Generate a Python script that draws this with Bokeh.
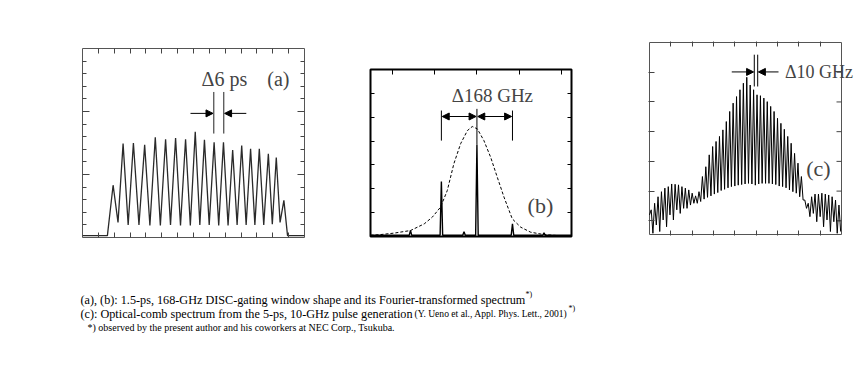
from bokeh.plotting import figure
from bokeh.layouts import column, row
from bokeh.models import (Range1d, LinearAxis, FixedTicker, Arrow, NormalHead,
                          Label, CustomJSTickFormatter)
from bokeh.embed import file_html
from bokeh.resources import INLINE

SERIF = "Liberation Serif"

# ---------------- Panel (a): DISC gating window (time, ps) ----------------
a_peak_ps = [19.3, 25.6, 32.1, 39.2, 45.9, 52.4, 58.7, 65.0, 71.1, 76.9,
             83.0, 88.9, 94.7, 100.4, 106.0, 111.5, 117.2, 122.2, 127.0]
a_peak_val = [0.83, 1.49, 1.50, 1.47, 1.59, 1.56, 1.58, 1.56, 1.68, 1.55,
              1.51, 1.51, 1.39, 1.46, 1.41, 1.41, 1.33, 1.27, 0.59]
a_valley_ps = [22.4, 28.8, 35.6, 42.5, 49.1, 55.5, 61.8, 68.0, 74.0, 79.9,
               85.9, 91.8, 97.5, 103.2, 108.7, 114.3, 119.7, 124.6]
a_valley_val = [0.24, 0.20, 0.20, 0.19, 0.19, 0.20, 0.19, 0.19, 0.20, 0.20,
                0.19, 0.19, 0.20, 0.20, 0.20, 0.20, 0.21, 0.24]
a_baseline = 0.03
a_rise_ps = 15.7
a_fall_ps = 129.3
a_xticks = [10, 20, 30, 40, 50, 60, 70, 80, 90, 100, 110, 120, 130]
a_yticks = [1, 2]
a_yminor = [0.2, 0.4, 0.6, 0.8, 1.2, 1.4, 1.6, 1.8, 2.2, 2.4, 2.6, 2.8]
a_mark_ps = [82.8, 89.1]

# ---------------- Panel (b): Fourier spectrum (GHz) ----------------
b_line_ghz = [-314, -168, -61, 0, 168, 317]
b_line_val = [0.25, 2.30, 0.20, 3.86, 0.53, 0.15]
b_floor = 0.05
b_env_ghz = [-503, -456, -393, -314, -249, -211, -172, -140, -109, -77, -45,
             -22, 2, 33, 65, 96, 128, 167, 207, 254, 317, 380, 447]
b_env_val = [0.05, 0.08, 0.14, 0.25, 0.53, 0.81, 1.23, 1.93, 3.05, 3.89, 4.44,
             4.61, 4.51, 4.02, 3.32, 2.49, 1.65, 0.74, 0.39, 0.18, 0.08, 0.04, 0.03]
b_xticks = [-400, -200, 0, 200, 400]
b_yticks = [1, 2, 3, 4, 5, 6]
b_mark_ghz = [-168, 0, 168]

# ---------------- Panel (c): optical comb spectrum (GHz, dB) ----------------
c_span_ghz = 562.5
c_floor_db = -64.6
c_line_ghz = [5, 15, 25, 35, 45, 55, 65, 75, 85, 95, 105, 115, 125, 135,
              145, 155, 165, 175, 185, 195, 205, 215, 225, 235, 245, 255,
              265, 275, 285, 295, 305, 315, 325, 335, 345, 355, 365, 375,
              385, 395, 405, 415, 425, 435, 445, 455, 465, 475, 485, 495,
              505, 515, 525, 535, 545, 555]
c_peak_db = [-56.3, -54.1, -51.9, -50.2, -49.0, -48.5, -47.6, -47.7, -47.9,
             -48.5, -49.0, -49.6, -50.7, -51.6, -50.2, -45.1, -41.8, -37.8,
             -35.0, -33.3, -31.6, -29.4, -26.6, -23.2, -20.4, -18.2, -15.9,
             -13.7, -11.7, -14.3, -15.9, -17.6, -17.9, -18.7, -19.9, -21.5,
             -23.2, -25.5, -27.2, -29.2, -31.6, -33.9, -37.3, -40.6, -45.1,
             -53.0, -54.1, -51.9, -51.0, -51.0, -50.7, -51.0, -51.3, -51.9,
             -53.0, -54.7]
c_trough_db = [-64.2, -61.4, -63.6, -59.7, -62.0, -58.0, -59.7, -56.3, -57.5,
               -55.8, -55.8, -54.7, -54.1, -54.1, -53.5, -52.7, -52.1, -51.6,
               -51.0, -50.5, -49.8, -49.4, -48.9, -48.5, -48.3, -48.0, -47.8,
               -47.6, -47.4, -47.6, -48.0, -47.6, -47.4, -47.4, -47.4, -47.6,
               -47.8, -48.3, -48.5, -48.9, -49.6, -50.2, -50.7, -51.9, -53.0,
               -55.8, -58.6, -57.5, -60.3, -58.6, -62.0, -59.7, -63.6, -60.3,
               -64.2, -63.6]
c_start_db = -58.0
c_xticks = [62.5, 125, 187.5, 250, 312.5, 375, 437.5, 500]
c_yticks = [-60, -50, -40, -30, -20, -10]
c_mark_ghz = [307, 317]

# ---------------- Caption ----------------
cap1 = "(a), (b): 1.5-ps, 168-GHz DISC-gating window shape and its Fourier-transformed spectrum"
cap2 = "(c): Optical-comb spectrum from the 5-ps, 10-GHz pulse generation"
cap2_ref = "(Y. Ueno et al., Appl. Phys. Lett., 2001)"
cap3 = "*) observed by the present author and his coworkers at NEC Corp., Tsukuba."
star = "*)"


def panel(width, height, bl, br, bt, bb, xr, yr, outline_color, outline_width):
    p = figure(width=width, height=height, x_range=Range1d(*xr), y_range=Range1d(*yr),
               output_backend="svg", toolbar_location=None,
               x_axis_location=None, y_axis_location=None,
               min_border_left=bl, min_border_right=br,
               min_border_top=bt, min_border_bottom=bb)
    p.frame_align = False
    p.grid.grid_line_color = None
    p.outline_line_color = outline_color
    p.outline_line_width = outline_width
    p.background_fill_color = "white"
    p.border_fill_color = "white"
    return p


def add_axes(p, locs, ticks, minor, tin, minor_in, color):
    for loc in locs:
        ax = LinearAxis(ticker=FixedTicker(ticks=ticks, minor_ticks=minor),
                        formatter=CustomJSTickFormatter(code="return ''"),
                        major_tick_in=tin, major_tick_out=0,
                        minor_tick_in=minor_in, minor_tick_out=0,
                        major_label_standoff=0, axis_line_color=None,
                        major_tick_line_color=color, minor_tick_line_color=color,
                        major_tick_line_width=1, minor_tick_line_width=1)
        p.add_layout(ax, loc)


def head():
    return NormalHead(size=7, fill_color="black", line_color="black", line_width=1)


ROW_H = 270

# ---- panel (a)  frame x 82..304, y 48..237
pa = panel(324, ROW_H, 82, 20, 48, 33, (0, 140), (0, 3), "#555555", 1)
add_axes(pa, ["below", "above"], a_xticks, [], 5, 0, "#444444")
add_axes(pa, ["left", "right"], a_yticks, a_yminor, 7, 4, "#444444")
ax_t = [0, a_rise_ps]
ay_v = [a_baseline, a_baseline]
for i in range(len(a_peak_ps)):
    ax_t.append(a_peak_ps[i]); ay_v.append(a_peak_val[i])
    if i < len(a_valley_ps):
        ax_t.append(a_valley_ps[i]); ay_v.append(a_valley_val[i])
ax_t += [a_fall_ps, 140]
ay_v += [a_baseline, a_baseline]
pa.line(ax_t, ay_v, line_color="#2a2a2a", line_width=1.3)
pa.segment(x0=a_mark_ps, y0=[1.65, 1.65], x1=a_mark_ps, y1=[2.31, 2.31],
           line_color="#222222", line_width=1)
pa.add_layout(Arrow(start=None, end=head(), x_start=68.1, y_start=1.97,
                    x_end=a_mark_ps[0] - 0.5, y_end=1.97, line_width=1))
pa.add_layout(Arrow(start=None, end=head(), x_start=103.3, y_start=1.97,
                    x_end=a_mark_ps[1] + 0.5, y_end=1.97, line_width=1))
pa.add_layout(Label(x=89.5, y=2.52, text="\u03946 ps", text_font=SERIF,
                    text_font_size="20px", text_align="center", text_baseline="middle"))
pa.add_layout(Label(x=123.5, y=2.51, text="(a)", text_font=SERIF,
                    text_font_size="20px", text_align="center", text_baseline="middle"))

# ---- panel (b)  frame x 370..571, y 69..236
pb = panel(267, ROW_H, 46, 20, 69, 34, (-503, 447), (0, 7), "black", 2)
add_axes(pb, ["above"], b_xticks, [], 5, 0, "black")
add_axes(pb, ["left", "right"], b_yticks, [], 4, 0, "black")
pb.line(b_env_ghz, b_env_val, line_color="black", line_width=1, line_dash="3 2")
HALF = 6
bx = [-503]
by = [b_floor]
for f, v in zip(b_line_ghz, b_line_val):
    bx += [f - HALF, f, f + HALF]
    by += [b_floor, v, b_floor]
bx.append(447)
by.append(b_floor)
pb.line(bx, by, line_color="black", line_width=1.4)
pb.segment(x0=[b_mark_ghz[0], b_mark_ghz[2], b_mark_ghz[1]], y0=[4.02, 4.02, 3.86],
           x1=[b_mark_ghz[0], b_mark_ghz[2], b_mark_ghz[1]], y1=[5.28, 5.28, 5.35],
           line_color="black", line_width=1)
pb.add_layout(Arrow(start=head(), end=head(), x_start=b_mark_ghz[0] + 4, y_start=5.03,
                    x_end=b_mark_ghz[1] - 4, y_end=5.03, line_width=1.2))
pb.add_layout(Arrow(start=head(), end=head(), x_start=b_mark_ghz[1] + 4, y_start=5.03,
                    x_end=b_mark_ghz[2] - 4, y_end=5.03, line_width=1.2))
pb.add_layout(Label(x=73, y=5.91, text="\u0394168 GHz", text_font=SERIF,
                    text_font_size="19px", text_align="center", text_baseline="middle"))
pb.add_layout(Label(x=300, y=1.30, text="(b)", text_font=SERIF,
                    text_font_size="22px", text_align="center", text_baseline="middle"))

# ---- panel (c)  box x 649..841, y 42..234 ; frame x 648..860, y 41..235
# (frame runs to the page edge so that the "Δ10 GHz" note may overhang the box)
GHZ_PER_PX = c_span_ghz / 192.0
DB_PER_PX = -c_floor_db / 192.0
pc = panel(269, ROW_H, 57, 0, 41, 35,
           (-1 * GHZ_PER_PX, c_span_ghz + 19 * GHZ_PER_PX),
           (c_floor_db - DB_PER_PX, DB_PER_PX), None, 0)
add_axes(pc, ["below", "above"], c_xticks, [], 5, 0, "#444444")
add_axes(pc, ["left"], c_yticks, [], 6, 0, "#444444")
pc.quad(left=[0], right=[c_span_ghz], bottom=[c_floor_db], top=[0],
        fill_color=None, line_color="#555555", line_width=1)
pc.segment(x0=[c_span_ghz] * len(c_yticks), y0=c_yticks,
           x1=[c_span_ghz - 5 * GHZ_PER_PX] * len(c_yticks), y1=c_yticks,
           line_color="#444444", line_width=1)
cx = [0.0]
cy = [c_start_db]
for f, t, b in zip(c_line_ghz, c_peak_db, c_trough_db):
    cx += [f, f + 5]
    cy += [t, b]
pc.line(cx, cy, line_color="black", line_width=1)
pc.segment(x0=c_mark_ghz, y0=[-14.8, -14.8], x1=c_mark_ghz, y1=[-4.1, -4.1],
           line_color="black", line_width=1)
pc.add_layout(Arrow(start=None, end=head(), x_start=241, y_start=-9.9,
                    x_end=c_mark_ghz[0] - 2, y_end=-9.9, line_width=1))
pc.add_layout(Arrow(start=None, end=head(), x_start=378, y_start=-9.9,
                    x_end=c_mark_ghz[1] + 2, y_end=-9.9, line_width=1))
pc.add_layout(Label(x=397, y=-9.9, text="\u039410 GHz", text_font=SERIF,
                    text_font_size="18px", text_align="left", text_baseline="middle"))
pc.add_layout(Label(x=495, y=-42.3, text="(c)", text_font=SERIF,
                    text_font_size="22px", text_align="center", text_baseline="middle"))

# ---- caption  (page y 270..365)
CAP_H = 95
cap = figure(width=860, height=CAP_H, x_range=Range1d(0, 860), y_range=Range1d(CAP_H, 0),
             output_backend="svg", toolbar_location=None,
             x_axis_location=None, y_axis_location=None,
             min_border_left=0, min_border_right=0, min_border_top=0, min_border_bottom=0)
cap.frame_align = False
cap.grid.grid_line_color = None
cap.outline_line_color = None


def cap_label(x, y, text, size):
    cap.add_layout(Label(x=x, y=y, text=text, text_font=SERIF, text_font_size=size,
                         text_align="left", text_baseline="middle", text_color="black"))


cap_label(80, 29, cap1, "12.2px")
cap_label(525, 24, star, "8px")
cap_label(80, 43, cap2, "12.2px")
cap_label(414, 43, cap2_ref, "9.6px")
cap_label(568, 38, star, "8px")
cap_label(87, 57, cap3, "10px")

layout = column(row(pa, pb, pc, spacing=0), cap, spacing=0)

with open("out.html", "w") as f:
    f.write(file_html(layout, INLINE))
